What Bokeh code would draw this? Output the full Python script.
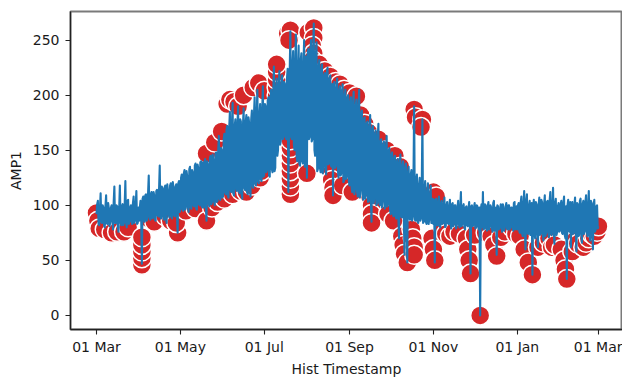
import pandas as pd
from bokeh.plotting import figure
from bokeh.models import Range1d, FixedTicker
from bokeh.embed import file_html
from bokeh.resources import INLINE

# ---------------- data ----------------
start_date = "2021-03-01"
# first reading of each day (00:00)
amp_mar = [92, 104, 82, 111, 84, 98, 80, 109, 83, 97, 85, 100, 78, 117, 84, 99, 76, 118, 82, 101,
           84, 122, 80, 105, 85, 100, 83, 108, 86, 113, 84]
amp_apr = [86, 104, 47, 108, 85, 110, 88, 127, 87, 112, 89, 109, 86, 114, 90, 136, 88, 115, 87, 118,
           84, 113, 89, 120, 88, 116, 90, 119, 75, 122]
amp_may = [96, 128, 95, 132, 98, 126, 94, 135, 97, 130, 99, 138, 96, 134, 100, 140, 98, 98, 142, 86,
           137, 99, 145, 103, 141, 100, 148, 104, 163, 105, 150]
amp_jun = [108, 165, 110, 172, 107, 185, 112, 193, 109, 178, 113, 190, 111, 176, 106, 188, 114, 182, 110, 175,
           108, 186, 116, 198, 118, 205, 120, 192, 122, 208]
amp_jul = [128, 190, 132, 198, 126, 205, 130, 226, 134, 215, 150, 222, 158, 218, 162, 210, 160, 224, 165, 258,
           160, 240, 150, 255, 140, 245, 136, 238, 138, 250, 140]
amp_aug = [125, 242, 162, 250, 160, 265, 145, 248, 133, 232, 130, 228, 136, 220, 128, 225, 138, 218, 135, 109,
           212, 136, 215, 125, 208, 129, 210, 122, 205, 126, 200]
amp_sep = [118, 198, 112, 203, 115, 196, 108, 205, 114, 186, 105, 180, 110, 176, 104, 182, 85, 172, 106, 168,
           102, 174, 100, 160, 104, 158, 98, 163, 101, 152]
amp_oct = [92, 148, 90, 145, 88, 142, 70, 146, 89, 140, 55, 138, 48, 135, 87, 132, 90, 190, 86, 128,
           84, 125, 88, 178, 85, 122, 83, 120, 87, 118, 84]
amp_nov = [83, 48, 106, 82, 108, 80, 104, 84, 107, 81, 103, 83, 105, 79, 102, 84, 100, 82, 104, 80,
           112, 83, 101, 78, 99, 81, 103, 38, 100, 82]
amp_dec = [102, 80, 99, 78, 0, 101, 112, 79, 100, 77, 103, 81, 98, 76, 104, 80, 55, 99, 79, 101,
           76, 97, 81, 102, 78, 100, 80, 98, 77, 103, 79]
amp_jan = [78, 102, 75, 108, 72, 113, 60, 110, 74, 104, 76, 37, 105, 70, 101, 62, 107, 74, 103, 68,
           109, 75, 104, 71, 112, 73, 116, 65, 106, 76, 102]
amp_feb = [77, 104, 74, 108, 70, 33, 105, 76, 62, 103, 75, 107, 58, 101, 73, 106, 66, 104, 76, 109,
           72, 113, 68, 102, 60, 105, 78, 100]
amp_mar_end = [81]

# second reading of each day (12:00)
amp2_mar = [101, 83, 97, 85, 100, 82, 99, 84, 102, 81, 98, 86, 103, 84, 100, 80, 97, 85, 99, 82,
            101, 84, 104, 83, 98, 86, 102, 84, 100, 83, 98]
amp2_apr = [98, 88, 106, 87, 109, 86, 111, 90, 110, 88, 112, 87, 113, 91, 115, 89, 117, 90, 116, 88,
            119, 92, 118, 90, 121, 91, 117, 93, 120, 94]
amp2_may = [125, 97, 129, 96, 131, 99, 133, 98, 132, 100, 136, 97, 137, 101, 139, 99, 139, 138, 100, 140,
            102, 143, 101, 146, 104, 147, 103, 150, 106, 152, 107]
amp2_jun = [160, 112, 168, 109, 170, 114, 175, 111, 172, 115, 174, 113, 178, 110, 172, 116, 176, 112, 180, 115,
            178, 118, 182, 120, 185, 122, 183, 124, 186, 126]
amp2_jul = [192, 130, 195, 127, 198, 133, 200, 131, 205, 145, 208, 155, 206, 160, 212, 163, 215, 112, 222, 162,
            228, 155, 230, 145, 226, 138, 232, 140, 228, 135, 235]
amp2_aug = [236, 160, 240, 158, 238, 150, 235, 131, 226, 134, 222, 129, 218, 133, 220, 137, 214, 136, 210, 208,
            134, 206, 133, 204, 127, 203, 121, 200, 124, 198, 122]
amp2_sep = [194, 116, 192, 110, 190, 112, 188, 107, 184, 110, 178, 106, 174, 103, 170, 105, 168, 102, 165, 100,
            162, 103, 158, 98, 155, 97, 152, 99, 150, 95]
amp2_oct = [146, 93, 143, 91, 140, 89, 138, 90, 136, 88, 134, 86, 130, 88, 128, 86, 125, 87, 122, 85,
            118, 86, 115, 84, 112, 85, 110, 83, 108, 84, 106]
amp2_nov = [105, 104, 82, 103, 81, 102, 83, 101, 80, 100, 84, 99, 82, 101, 81, 100, 79, 98, 83, 97,
            81, 99, 80, 98, 82, 97, 80, 99, 81, 98]
amp2_dec = [79, 100, 81, 98, 97, 80, 78, 101, 79, 99, 78, 100, 80, 102, 77, 98, 100, 78, 97, 80,
            101, 77, 99, 79, 100, 78, 98, 80, 102, 78, 99]
amp2_jan = [100, 76, 103, 74, 101, 77, 104, 75, 100, 73, 102, 99, 74, 103, 76, 100, 73, 105, 75, 101,
            72, 103, 76, 104, 74, 100, 77, 102, 73, 99, 76]
amp2_feb = [101, 75, 102, 73, 99, 100, 77, 103, 101, 74, 100, 76, 102, 72, 104, 75, 101, 74, 103, 77,
            100, 73, 104, 75, 101, 76, 99, 79]

# highlighted (red) points
mark_dates = [
    "2021-03-01", "2021-03-02", "2021-03-03", "2021-03-07", "2021-03-12", "2021-03-16", "2021-03-21", "2021-03-24",
    "2021-04-03", "2021-04-03", "2021-04-03", "2021-04-03", "2021-04-03",
    "2021-04-08", "2021-04-12", "2021-04-20", "2021-04-24", "2021-04-29", "2021-04-28",
    "2021-05-05", "2021-05-12", "2021-05-20", "2021-05-24", "2021-05-28",
    "2021-05-20", "2021-05-26", "2021-05-31",
    "2021-06-02", "2021-06-08", "2021-06-14", "2021-06-18", "2021-06-22", "2021-06-28", "2021-06-29",
    "2021-06-04", "2021-06-06", "2021-06-09", "2021-06-12", "2021-06-16", "2021-06-23", "2021-06-27", "2021-07-01",
    "2021-07-10", "2021-07-10", "2021-07-10", "2021-07-10", "2021-07-10",
    "2021-07-18", "2021-07-20", "2021-07-19", "2021-08-02", "2021-08-06", "2021-08-06", "2021-08-05", "2021-08-06",
    "2021-08-05",
    "2021-08-10", "2021-08-14", "2021-08-18", "2021-08-22", "2021-08-25", "2021-08-28", "2021-09-01", "2021-09-06",
    "2021-09-09", "2021-09-12", "2021-09-15", "2021-09-22", "2021-09-28", "2021-10-04", "2021-10-08",
    "2021-10-18", "2021-10-19", "2021-10-24", "2021-10-23",
    "2021-11-01", "2021-11-03",
    "2021-07-20", "2021-07-20", "2021-07-20", "2021-07-20", "2021-07-20", "2021-07-20", "2021-07-20", "2021-07-20",
    "2021-08-01", "2021-08-19", "2021-08-19", "2021-08-20", "2021-08-20", "2021-08-27",
    "2021-09-03", "2021-09-16", "2021-09-17", "2021-09-17", "2021-09-17", "2021-09-29", "2021-10-03",
    "2021-10-09", "2021-10-10", "2021-10-11", "2021-10-13", "2021-10-16", "2021-10-17", "2021-10-18", "2021-10-18",
    "2021-10-31", "2021-11-01", "2021-11-02",
    "2021-11-08", "2021-11-10", "2021-11-13", "2021-11-16", "2021-11-20", "2021-11-25", "2021-11-26", "2021-11-27",
    "2021-11-28",
    "2021-12-01", "2021-12-05", "2021-12-09", "2021-12-13", "2021-12-15", "2021-12-17", "2021-12-20", "2021-12-23",
    "2021-12-28", "2021-12-31",
    "2022-01-03", "2022-01-06", "2022-01-09", "2022-01-12", "2022-01-16", "2022-01-20", "2022-01-24", "2022-01-26",
    "2022-01-28",
    "2022-02-02", "2022-02-04", "2022-02-05", "2022-02-06", "2022-02-10", "2022-02-12", "2022-02-14", "2022-02-18",
    "2022-02-20", "2022-02-22", "2022-02-24", "2022-02-26", "2022-02-28", "2022-03-01",
]
mark_values = [
    93, 86, 79, 78, 75, 76, 76, 80,
    46, 52, 58, 64, 71,
    88, 85, 90, 86, 75, 84,
    95, 97, 86, 98, 103,
    147, 157, 167,
    106, 110, 113, 112, 118, 125, 131,
    192, 196, 194, 190, 200, 207, 211, 204,
    200, 207, 214, 221, 228,
    256, 259, 250, 257, 261, 252, 245, 238,
    232,
    228, 222, 217, 212, 210, 205, 202, 199,
    182, 174, 166, 160, 150, 145, 135,
    187, 180, 178, 171,
    112, 108,
    110, 117, 124, 131, 138, 145, 152, 159,
    129, 130, 123, 116, 109, 118,
    112, 107, 100, 92, 84, 92, 86,
    72, 64, 56, 48, 78, 70, 62, 55,
    70, 60, 50,
    80, 74, 72, 76, 74, 70, 60, 50,
    38,
    73, 0, 75, 72, 64, 54, 71, 76,
    80, 74,
    72, 60, 48, 37, 62, 66, 70, 62,
    64,
    60, 50, 42, 33, 58, 68, 65, 62,
    66, 70, 74, 72, 76, 81,
]

tick_dates = ["2021-03-01", "2021-05-01", "2021-07-01", "2021-09-01", "2021-11-01", "2022-01-01", "2022-03-01"]
tick_labels = ["01 Mar", "01 May", "01 Jul", "01 Sep", "01 Nov", "01 Jan", "01 Mar"]
y_ticks = [0, 50, 100, 150, 200, 250]

# ---------------- build ----------------
def to_ms(ts):
    return (pd.Timestamp(ts) - pd.Timestamp("1970-01-01")).total_seconds() * 1000.0

first = (amp_mar + amp_apr + amp_may + amp_jun + amp_jul + amp_aug + amp_sep +
         amp_oct + amp_nov + amp_dec + amp_jan + amp_feb + amp_mar_end)
second = (amp2_mar + amp2_apr + amp2_may + amp2_jun + amp2_jul + amp2_aug + amp2_sep +
          amp2_oct + amp2_nov + amp2_dec + amp2_jan + amp2_feb)
days = pd.date_range(start_date, periods=len(first), freq="D")

line_x, line_y = [], []
for i, d in enumerate(days):
    line_x.append(d)
    line_y.append(first[i])
    if i < len(second):
        line_x.append(d + pd.Timedelta(hours=12))
        line_y.append(second[i])

mark_ts = pd.to_datetime(mark_dates)

DAY = 86400000.0
x0 = to_ms(start_date)
FONT = "DejaVu Sans"
TXT = "#1a1a1a"

p = figure(width=622, height=379, x_axis_type="datetime",
           x_range=Range1d(x0 - 18.9 * DAY, x0 + 382.5 * DAY),
           y_range=Range1d(-12.8, 276.0),
           output_backend="svg", toolbar_location=None,
           min_border_left=70, min_border_right=0, min_border_top=11, min_border_bottom=46,
           background_fill_color="white", border_fill_color="white")

p.scatter(mark_ts, mark_values, size=19, marker="circle",
          fill_color="#d62728", line_color="white", line_width=1.5)
p.line(line_x, line_y, line_color="#1f77b4", line_width=2.1, line_join="round")

p.xgrid.visible = False
p.ygrid.visible = False
p.outline_line_color = "#7a7a7a"
p.outline_line_width = 2

tick_ms = [to_ms(d) for d in tick_dates]
p.xaxis.ticker = FixedTicker(ticks=tick_ms)
p.xaxis.major_label_overrides = {t: lab for t, lab in zip(tick_ms, tick_labels)}
p.yaxis.ticker = FixedTicker(ticks=y_ticks)

for ax in (p.xaxis[0], p.yaxis[0]):
    ax.axis_line_color = "#222222"
    ax.axis_line_width = 1.3
    ax.major_tick_line_color = "#222222"
    ax.major_tick_line_width = 1.1
    ax.major_tick_in = 0
    ax.major_tick_out = 5
    ax.minor_tick_line_color = None
    ax.major_label_text_font = FONT
    ax.major_label_text_font_size = "14px"
    ax.major_label_text_color = TXT
    ax.axis_label_text_font = FONT
    ax.axis_label_text_font_size = "14px"
    ax.axis_label_text_font_style = "normal"
    ax.axis_label_text_color = TXT

p.xaxis.axis_label = "Hist Timestamp"
p.yaxis.axis_label = "AMP1"
p.xaxis.major_label_standoff = 4
p.xaxis.axis_label_standoff = 3
p.yaxis.major_label_standoff = 6
p.yaxis.axis_label_standoff = 6

open("out.html", "w").write(file_html(p, INLINE))
